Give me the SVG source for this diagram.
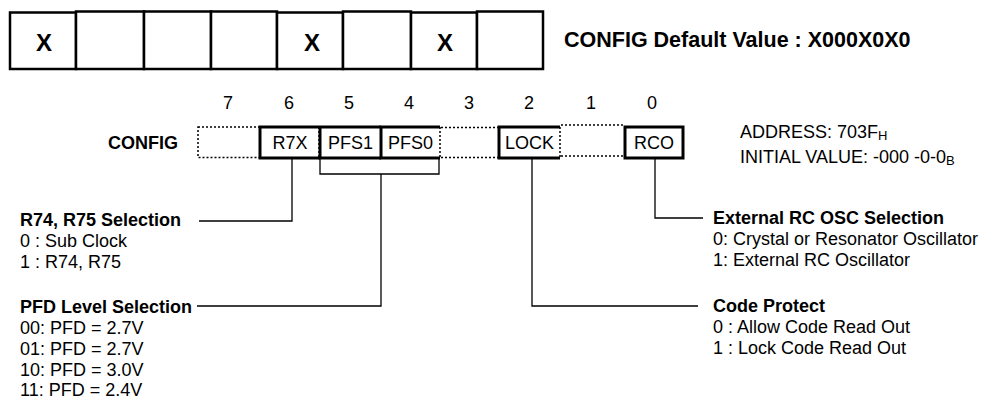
<svg xmlns="http://www.w3.org/2000/svg" width="989" height="399" viewBox="0 0 989 399">
<style>
text{font-family:"Liberation Sans",Arial,sans-serif;fill:#000}
.b{font-weight:bold}
.t18{font-size:18px}
.mid{text-anchor:middle}
.cell{fill:#fff;stroke:#000;stroke-width:2.5}
.thick{fill:none;stroke:#000;stroke-width:3}
.dot{fill:none;stroke:#000;stroke-width:1.5;stroke-dasharray:2 2}
.conn{fill:none;stroke:#000;stroke-width:1.3}
</style>
<rect width="989" height="399" fill="#fff"/>
<g id="default-row">
<rect class="cell" x="10" y="12.5" width="66" height="56.5"/>
<rect class="cell" x="76" y="11.5" width="68" height="57.5"/>
<rect class="cell" x="144" y="11.5" width="67" height="57.5"/>
<rect class="cell" x="211" y="11.5" width="66" height="57.5"/>
<rect class="cell" x="277" y="12.5" width="66" height="56.5"/>
<rect class="cell" x="343" y="11.5" width="68" height="57.5"/>
<rect class="cell" x="411" y="12.5" width="66" height="56.5"/>
<rect class="cell" x="477" y="11.5" width="66" height="57.5"/>
<text class="b mid" x="44" y="51" font-size="24">X</text>
<text class="b mid" x="312" y="51" font-size="24">X</text>
<text class="b mid" x="445" y="51" font-size="24">X</text>
</g>
<g id="title"><text class="b" x="564" y="47" font-size="21.5">CONFIG Default Value : X000X0X0</text></g>
<g id="config-label"><text class="b t18" x="178" y="149" text-anchor="end">CONFIG</text></g>
<g id="bit-numbers" class="t18">
<text class="mid" x="228" y="109">7</text>
<text class="mid" x="289" y="109">6</text>
<text class="mid" x="349" y="109">5</text>
<text class="mid" x="409" y="109">4</text>
<text class="mid" x="469" y="109">3</text>
<text class="mid" x="529" y="109">2</text>
<text class="mid" x="591" y="109">1</text>
<text class="mid" x="652" y="109">0</text>
</g>
<g id="bit7"><rect class="dot" x="198" y="127" width="62" height="30.5"/></g>
<g id="bit6-R7X">
<path class="thick" d="M320,127 H260 V158 H320"/>
<path class="dot" d="M319,127 V158"/>
<text class="t18 mid" x="290" y="149">R7X</text>
</g>
<g id="bit5-PFS1">
<path class="thick" d="M320,127 H381 M320,127 V158 H381"/>
<text class="t18 mid" x="350.5" y="149">PFS1</text>
</g>
<g id="bit4-PFS0">
<path class="thick" d="M440,127 H381 V158 H440"/>
<path class="dot" d="M440,127 V158"/>
<text class="t18 mid" x="410.5" y="149">PFS0</text>
</g>
<g id="bit3"><path class="dot" d="M441,127.5 H499 M441,157.5 H499"/></g>
<g id="bit2-LOCK">
<path class="thick" d="M560,127 H499 V158 H560"/>
<path class="dot" d="M560,127 V158"/>
<text class="t18 mid" x="529.5" y="149">LOCK</text>
</g>
<g id="bit1"><path class="dot" d="M561,125 H625 M561,156 H625"/></g>
<g id="bit0-RCO">
<rect class="thick" x="625" y="127" width="58" height="31"/>
<text class="t18 mid" x="654" y="149">RCO</text>
</g>
<g id="address-info" class="t18">
<text x="740" y="138">ADDRESS: 703F<tspan font-size="13" dy="2">H</tspan></text>
<text x="740" y="163">INITIAL VALUE: -000 -0-0<tspan font-size="13" dy="2">B</tspan></text>
</g>
<g id="connectors">
<path class="conn" d="M292,159 V221 H199"/>
<path class="conn" d="M320,159 V174 H439 V159 M381,174 V306 H197"/>
<path class="conn" d="M532,159 V306 H698"/>
<path class="conn" d="M655,159 V218 H703"/>
</g>
<g id="r7x-desc" class="t18">
<text class="b" x="20" y="226">R74, R75 Selection</text>
<text x="20" y="247">0 : Sub Clock</text>
<text x="20" y="268">1 : R74, R75</text>
</g>
<g id="pfd-desc" class="t18">
<text class="b" x="20" y="313">PFD Level Selection</text>
<text x="20" y="334">00: PFD = 2.7V</text>
<text x="20" y="355">01: PFD = 2.7V</text>
<text x="20" y="376">10: PFD = 3.0V</text>
<text x="20" y="396">11: PFD = 2.4V</text>
</g>
<g id="rco-desc" class="t18">
<text class="b" x="713" y="224">External RC OSC Selection</text>
<text x="713" y="245">0: Crystal or Resonator Oscillator</text>
<text x="713" y="266">1: External RC Oscillator</text>
</g>
<g id="lock-desc" class="t18">
<text class="b" x="713" y="312">Code Protect</text>
<text x="713" y="333">0 : Allow Code Read Out</text>
<text x="713" y="354">1 : Lock Code Read Out</text>
</g>
</svg>
